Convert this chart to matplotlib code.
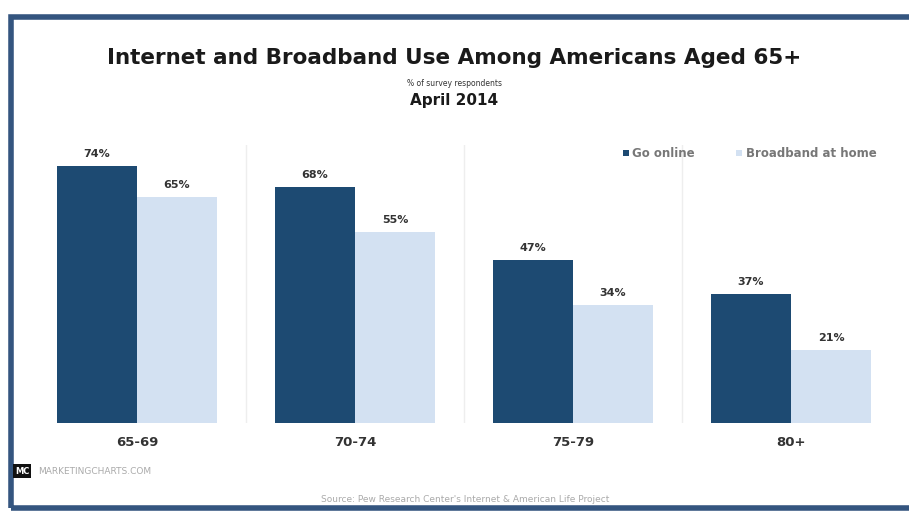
import matplotlib
matplotlib.use("Agg")
import matplotlib.pyplot as plt
import numpy as np
from matplotlib.patches import Rectangle

categories = ["65-69", "70-74", "75-79", "80+"]
go_online = [74, 68, 47, 37]
broadband = [65, 55, 34, 21]
series_names = ["Go online", "Broadband at home"]

W, H = 909, 512
fig = plt.figure(figsize=(W / 100, H / 100), dpi=100)
fig.patch.set_facecolor("white")

# frame
frame_col = "#34557f"
fig.add_artist(Rectangle((11 / W, 1 - 508 / H), 1.2, (508 - 17) / H,
                         transform=fig.transFigure, fill=False,
                         edgecolor=frame_col, linewidth=4))

# axes: x from 28 to 900 px, y baseline 423, top at 145
ax = fig.add_axes([28 / W, 1 - 423 / H, (900 - 28) / W, (423 - 145) / H])
x = np.arange(len(categories))
bw = 0.367
dark = "#1d4a72"
light = "#d3e1f2"
b1 = ax.bar(x - bw / 2, go_online, bw, color=dark, label=series_names[0])
b2 = ax.bar(x + bw / 2, broadband, bw, color=light, label=series_names[1])
ax.set_xlim(-0.5, 3.5)
ax.set_ylim(0, 80)
for s in ax.spines.values():
    s.set_visible(False)
ax.set_yticks([])
ax.set_xticks(x)
ax.set_xticklabels(categories, fontsize=9.5, fontweight="bold", color="#333333")
ax.tick_params(axis="x", length=0, pad=9)
for sep in x[:-1] + 0.5:
    ax.axvline(sep, color="#eeeeee", linewidth=1, zorder=0)

for bars, vals in ((b1, go_online), (b2, broadband)):
    for r, v in zip(bars, vals):
        ax.annotate(f"{v}%", (r.get_x() + r.get_width() / 2, v),
                    xytext=(0, 5), textcoords="offset points",
                    ha="center", va="bottom", fontsize=8,
                    fontweight="bold", color="#333333")

leg = ax.legend(loc="upper right", bbox_to_anchor=(0.985, 1.03), ncol=2,
                frameon=False, fontsize=8.5, handlelength=0.5,
                handleheight=0.5, columnspacing=3.5, handletextpad=0.3)
for t in leg.get_texts():
    t.set_color("#777777")
    t.set_fontweight("bold")

fig.text(0.5, 1 - 58 / H, "Internet and Broadband Use Among Americans Aged 65+",
         ha="center", va="center", fontsize=15.5, fontweight="bold", color="#1a1a1a")
fig.text(0.5, 1 - 84 / H, "% of survey respondents", ha="center", va="center",
         fontsize=5.5, color="#333333")
fig.text(0.5, 1 - 100 / H, "April 2014", ha="center", va="center",
         fontsize=11, fontweight="bold", color="#1a1a1a")

# logo + source
fig.text(15 / W, 1 - 471 / H, "MC", ha="left", va="center", fontsize=6,
         fontweight="bold", color="white",
         bbox=dict(boxstyle="square,pad=0.25", facecolor="#111111", edgecolor="none"))
fig.text(38 / W, 1 - 471 / H, "MARKETINGCHARTS.COM", ha="left", va="center",
         fontsize=6.5, color="#aaaaaa")
fig.text(465 / W, 1 - 499 / H,
         "Source: Pew Research Center's Internet & American Life Project",
         ha="center", va="center", fontsize=6.5, color="#aaaaaa")

fig.savefig("out.png", dpi=100, facecolor="white")
